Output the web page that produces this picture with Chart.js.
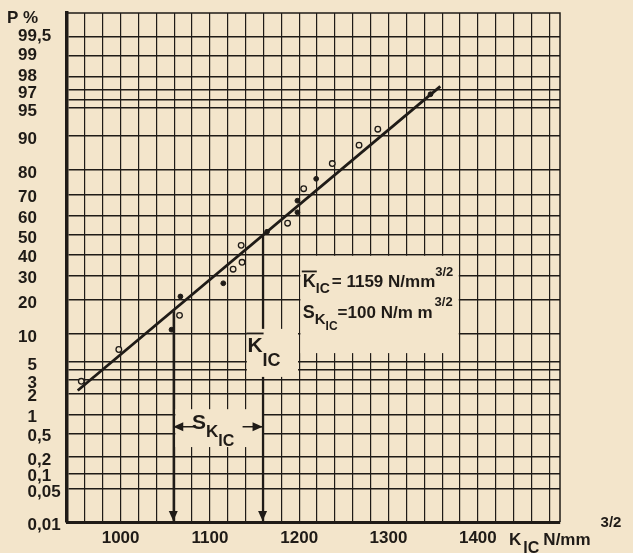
<!DOCTYPE html>
<html>
<head>
<meta charset="utf-8">
<script src="https://cdn.jsdelivr.net/npm/chart.js@4.4.3/dist/chart.umd.min.js"></script>
<style>
  html, body { margin: 0; padding: 0; background: #f3e5cb; }
</style>
</head>
<body>
<canvas id="mychart" width="633" height="553"></canvas>
<script>
    // K_IC values (N/mm^3/2) and plotting positions P (%)
    const openK = [956, 998, 1066, 1126, 1136, 1135, 1187, 1205, 1237, 1267, 1288];
    const openP = [2.9, 6.9, 14.9, 32.9, 36.2, 44.7, 56.1, 72.6, 82.3, 87.8, 91.5];
    const fullK = [1057, 1067, 1115, 1164, 1198, 1198, 1219, 1347];
    const fullP = [11.0, 21.3, 26.6, 51.7, 61.6, 67.2, 76.7, 96.6];

    // fitted straight line (ends)
    const fitK = [952, 1358];
    const fitP = [2.2, 97.3];

    const meanK = 1159;
    const sK = 100;

    // axes
    const xMin = 940, xMax = 1492, xStep = 20;
    const xLabels = [1000, 1100, 1200, 1300, 1400];
    const pMin = 0.01, pMax = 99.8;
    const pGrid = [0.01, 0.05, 0.1, 0.2, 0.5, 1, 2, 3, 4, 5, 10, 20, 30, 40, 50, 60, 70, 80, 90, 95, 96, 97, 98, 99, 99.5];
    const pLabels = ['0,01', '0,05', '0,1', '0,2', '0,5', '1', '2', '3', '', '5', '10', '20', '30', '40', '50', '60', '70', '80', '90', '95', '', '97', '98', '99', '99,5'];

    const paper = '#f3e5cb';
    const ink = '#1f1b17';
    const fam = '"Liberation Sans", "DejaVu Sans", sans-serif';

    // inverse normal cdf, p in %
    function probit(p) {
        const q0 = p / 100;
        const a = [-3.969683028665376e+01, 2.209460984245205e+02, -2.759285104469687e+02, 1.383577518672690e+02, -3.066479806614716e+01, 2.506628277459239e+00];
        const b = [-5.447609879822406e+01, 1.615858368580409e+02, -1.556989798598866e+02, 6.680131188771972e+01, -1.328068155288572e+01];
        const c = [-7.784894002430293e-03, -3.223964580411365e-01, -2.400758277161838e+00, -2.549732539343734e+00, 4.374664141464968e+00, 2.938163982698783e+00];
        const d = [7.784695709041462e-03, 3.224671290700398e-01, 2.445134137142996e+00, 3.754408661907416e+00];
        const pl = 0.02425;
        if (q0 < pl) {
            const q = Math.sqrt(-2 * Math.log(q0));
            return (((((c[0]*q+c[1])*q+c[2])*q+c[3])*q+c[4])*q+c[5]) / ((((d[0]*q+d[1])*q+d[2])*q+d[3])*q+1);
        }
        if (q0 > 1 - pl) {
            const q = Math.sqrt(-2 * Math.log(1 - q0));
            return -(((((c[0]*q+c[1])*q+c[2])*q+c[3])*q+c[4])*q+c[5]) / ((((d[0]*q+d[1])*q+d[2])*q+d[3])*q+1);
        }
        const q = q0 - 0.5, r = q * q;
        return (((((a[0]*r+a[1])*r+a[2])*r+a[3])*r+a[4])*r+a[5])*q / (((((b[0]*r+b[1])*r+b[2])*r+b[3])*r+b[4])*r+1);
    }
    function cdf(z) {
        const t = 1 / (1 + 0.3275911 * Math.abs(z) / Math.SQRT2);
        const e = 1 - (((((1.061405429*t - 1.453152027)*t) + 1.421413741)*t - 0.284496736)*t + 0.254829592)*t*Math.exp(-z*z/2);
        return 50 * (1 + (z >= 0 ? e : -e));
    }

    // probability paper scale
    class ProbitScale extends Chart.Scale {
        static id = 'probit';
        static defaults = {};
        parse(raw) { return raw == null ? null : +raw; }
        determineDataLimits() { this.min = this.options.min; this.max = this.options.max; }
        buildTicks() { return pGrid.map(v => ({ value: v })); }
        configure() {
            super.configure();
            this._z0 = probit(this.min);
            this._zr = probit(this.max) - this._z0;
        }
        getPixelForValue(v) { return this.getPixelForDecimal((probit(v) - this._z0) / this._zr); }
        getValueForPixel(px) { return cdf(this._z0 + this.getDecimalForPixel(px) * this._zr); }
        getLabelForValue(v) { return String(v); }
    }
    Chart.register(ProbitScale);

    const xGrid = [];
    for (let v = xMin; v < xMax; v += xStep) xGrid.push(v);

    function rich(ctx, x, y, parts) {
        for (const p of parts) {
            ctx.font = 'bold ' + p.s + 'px ' + fam;
            const w = ctx.measureText(p.t).width;
            const yy = y + (p.dy || 0);
            ctx.fillText(p.t, x, yy);
            if (p.bar) ctx.fillRect(x - 1, yy - p.s * 0.92, w + 2, 1.8);
            x += w + (p.gap || 0);
        }
    }

    const decor = {
        id: 'decor',
        beforeDraw(chart) {
            const ctx = chart.ctx;
            ctx.save();
            ctx.fillStyle = paper;
            ctx.fillRect(0, 0, chart.width, chart.height);
            ctx.restore();
        },
        beforeDatasetsDraw(chart) {
            const { ctx, chartArea: a, scales: { x, y } } = chart;
            ctx.save();
            ctx.strokeStyle = ink;
            ctx.fillStyle = ink;
            ctx.lineWidth = 1.5;
            ctx.beginPath();
            ctx.moveTo(a.left, a.top); ctx.lineTo(a.right, a.top); ctx.lineTo(a.right, a.bottom);
            ctx.stroke();

            const erase = (k0, k1, p0, p1) => {
                const x0 = x.getPixelForValue(k0) + 1.2, x1 = x.getPixelForValue(k1) - 1.2;
                const y0 = y.getPixelForValue(p0) + 1.2, y1 = y.getPixelForValue(p1);
                ctx.fillStyle = paper;
                ctx.fillRect(x0, y0, x1 - x0, y1 - y0);
                ctx.fillStyle = ink;
            };
            erase(1200, 1380, 40, 6.3);
            erase(1060, 1160, 1.25, 0.3);

            // mean and mean - s down to the axis
            ctx.lineWidth = 1.4;
            const xm = x.getPixelForValue(meanK), xs = x.getPixelForValue(meanK - sK);
            ctx.beginPath();
            ctx.moveTo(xm, y.getPixelForValue(50)); ctx.lineTo(xm, a.bottom);
            ctx.moveTo(xs, y.getPixelForValue(15.9)); ctx.lineTo(xs, a.bottom);
            ctx.stroke();
            [xm, xs].forEach(px => {
                ctx.beginPath();
                ctx.moveTo(px - 4.5, a.bottom - 11); ctx.lineTo(px + 4.5, a.bottom - 11); ctx.lineTo(px, a.bottom - 1);
                ctx.closePath(); ctx.fill();
            });
            erase(1140, 1200, 11.5, 3.3);

            // s arrow
            const ya = y.getPixelForValue(0.65);
            ctx.lineWidth = 1.6;
            ctx.beginPath();
            ctx.moveTo(xs, ya); ctx.lineTo(xs + 22, ya);
            ctx.moveTo(xm - 20, ya); ctx.lineTo(xm, ya);
            ctx.stroke();
            ctx.beginPath();
            ctx.moveTo(xs, ya); ctx.lineTo(xs + 10, ya - 4.5); ctx.lineTo(xs + 10, ya + 4.5); ctx.closePath(); ctx.fill();
            ctx.beginPath();
            ctx.moveTo(xm, ya); ctx.lineTo(xm - 10, ya - 4.5); ctx.lineTo(xm - 10, ya + 4.5); ctx.closePath(); ctx.fill();
            ctx.restore();
        },
        afterDraw(chart) {
            const { ctx, chartArea: a, scales: { x, y } } = chart;
            ctx.save();
            ctx.fillStyle = ink;

            // probability labels, aligned on the comma
            ctx.textBaseline = 'middle';
            ctx.font = 'bold 17px ' + fam;
            pGrid.forEach((p, i) => {
                const t = pLabels[i];
                if (!t) return;
                const yy = y.getPixelForValue(p) + (p > 97.5 ? 0 : 3);
                const parts = t.split(',');
                ctx.textAlign = 'right';
                ctx.fillText(parts[0], 37, yy);
                if (parts.length > 1) {
                    ctx.textAlign = 'left';
                    ctx.fillText(',' + parts[1], 37, yy);
                }
            });
            ctx.textAlign = 'left';
            ctx.fillText('P %', 7, 18);

            ctx.textBaseline = 'alphabetic';
            // statistics
            const sx = x.getPixelForValue(1204);
            rich(ctx, sx, y.getPixelForValue(25), [
                { t: 'K', s: 18, bar: true }, { t: 'IC', s: 14, dy: 6, gap: 2 },
                { t: '= 1159 N/mm', s: 17 }, { t: '3/2', s: 13, dy: -11 }
            ]);
            rich(ctx, sx, y.getPixelForValue(14.2), [
                { t: 'S', s: 18 }, { t: 'K', s: 15, dy: 6 }, { t: 'IC', s: 12, dy: 12 },
                { t: '=100 N/m m', s: 17, gap: 2 }, { t: '3/2', s: 13, dy: -12 }
            ]);
            // mean label
            rich(ctx, x.getPixelForValue(1142), y.getPixelForValue(6.5), [
                { t: 'K', s: 21, bar: true }, { t: 'IC', s: 18, dy: 14 }
            ]);
            // s label
            rich(ctx, x.getPixelForValue(1080), y.getPixelForValue(0.6), [
                { t: 'S', s: 21 }, { t: 'K', s: 17, dy: 8 }, { t: 'IC', s: 16, dy: 17 }
            ]);
            // x axis title
            rich(ctx, x.getPixelForValue(1435), a.bottom + 23, [
                { t: 'K', s: 17, gap: 2 }, { t: 'IC', s: 16, dy: 8, gap: 4 },
                { t: 'N/mm', s: 17, gap: 10 }, { t: '3/2', s: 15, dy: -18 }
            ]);
            ctx.restore();
        }
    };

    new Chart(document.getElementById('mychart'), {
        type: 'scatter',
        data: {
            datasets: [
                {
                    label: 'fit',
                    type: 'line',
                    data: fitK.map((k, i) => ({ x: k, y: fitP[i] })),
                    borderColor: ink,
                    borderWidth: 2.8,
                    pointRadius: 0,
                    fill: false,
                    order: 3
                },
                {
                    label: 'open',
                    data: openK.map((k, i) => ({ x: k, y: openP[i] })),
                    pointRadius: 2.8,
                    borderWidth: 1.3,
                    borderColor: ink,
                    backgroundColor: paper,
                    order: 1
                },
                {
                    label: 'full',
                    data: fullK.map((k, i) => ({ x: k, y: fullP[i] })),
                    pointRadius: 2.4,
                    borderWidth: 1,
                    borderColor: ink,
                    backgroundColor: ink,
                    order: 2
                }
            ]
        },
        options: {
            responsive: false,
            animation: false,
            devicePixelRatio: 1,
            layout: { padding: { left: 0, top: 13, right: 73, bottom: 0 } },
            plugins: { legend: { display: false }, tooltip: { enabled: false } },
            scales: {
                x: {
                    type: 'linear',
                    min: xMin,
                    max: xMax,
                    afterBuildTicks: s => { s.ticks = xGrid.map(v => ({ value: v })); },
                    afterFit: s => { s.height = 31; },
                    grid: { color: ink, lineWidth: 1.2, drawTicks: false },
                    border: { color: ink, width: 3 },
                    ticks: {
                        autoSkip: false,
                        maxRotation: 0,
                        padding: 6,
                        color: ink,
                        font: { family: fam, size: 17, weight: 'bold' },
                        callback: v => xLabels.includes(v) ? String(v) : ''
                    }
                },
                y: {
                    type: 'probit',
                    min: pMin,
                    max: pMax,
                    afterFit: s => { s.width = 67; },
                    grid: { color: ink, lineWidth: 1.5, drawTicks: false },
                    border: { color: ink, width: 3.5 },
                    ticks: { display: false }
                }
            }
        },
        plugins: [decor]
    });
</script>
</body>
</html>
